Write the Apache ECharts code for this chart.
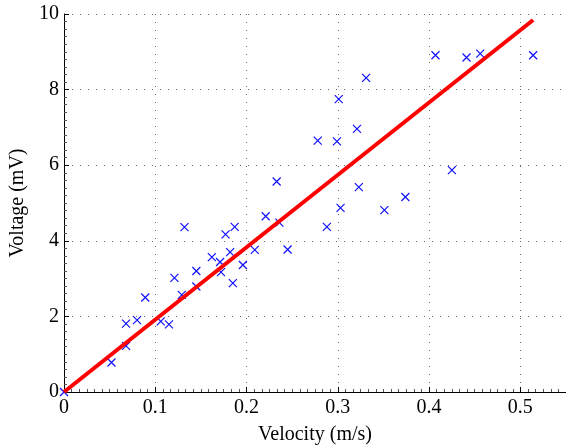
<!DOCTYPE html>
<html>
<head>
<meta charset="utf-8">
<script src="https://cdn.jsdelivr.net/npm/echarts@6/dist/echarts.min.js"></script>
<style>
html,body{margin:0;padding:0;background:#fff;}
#chart{width:566px;height:445px;}
</style>
</head>
<body>
<div id="chart"></div>
<script>
// Measured velocity (m/s)
const velocity = [0, 0.052, 0.068, 0.068, 0.080, 0.089, 0.106, 0.115, 0.121, 0.129,
  0.132, 0.145, 0.145, 0.162, 0.171, 0.172, 0.177, 0.182, 0.185, 0.187,
  0.196, 0.209, 0.221, 0.233, 0.236, 0.245, 0.278, 0.288, 0.299, 0.301,
  0.303, 0.321, 0.323, 0.331, 0.351, 0.374, 0.407, 0.425, 0.441, 0.456, 0.514];
// Measured voltage (mV)
const voltage = [0, 0.78, 1.22, 1.81, 1.90, 2.50, 1.87, 1.79, 3.02, 2.57,
  4.36, 2.79, 3.20, 3.57, 3.44, 3.17, 4.17, 3.70, 2.88, 4.37,
  3.36, 3.76, 4.65, 5.57, 4.48, 3.77, 6.65, 4.37, 6.63, 7.75,
  4.87, 6.96, 5.42, 8.31, 4.81, 5.16, 8.91, 5.87, 8.85, 8.95, 8.91];
// Fitted line endpoints
const fitX = [0, 0.514];
const fitY = [0, 9.84];
// Axis ticks
const xTicks = [0, 0.1, 0.2, 0.3, 0.4, 0.5];
const yTicks = [0, 2, 4, 6, 8, 10];

const chart = echarts.init(document.getElementById('chart'), null, {renderer: 'canvas'});
const font = 'Liberation Serif';
const gridDots = {color: '#666', width: 1, type: [1, 7]};

chart.setOption({
  animation: false,
  grid: {left: 64, right: 0, top: 14, bottom: 53, containLabel: false, outerBoundsMode: 'none'},
  xAxis: {
    type: 'value', min: 0, max: 0.55, interval: 0.1,
    name: 'Velocity (m/s)', nameLocation: 'middle', nameGap: 33,
    nameTextStyle: {fontFamily: font, fontSize: 20, color: '#000'},
    axisLine: {show: true, lineStyle: {color: '#000', width: 1}},
    axisTick: {show: true, inside: true, length: 5, lineStyle: {color: '#000'}},
    minorTick: {show: true, splitNumber: 12, length: 3, lineStyle: {color: '#555'}},
    axisLabel: {fontFamily: font, fontSize: 20, color: '#000', margin: 6, showMaxLabel: false,
      formatter: v => xTicks.includes(+v.toFixed(2)) ? String(+v.toFixed(2)) : ''},
    splitLine: {show: true, lineStyle: gridDots}
  },
  yAxis: {
    type: 'value', min: 0, max: 10, interval: 2,
    name: 'Voltage (mV)', nameLocation: 'middle', nameGap: 31,
    nameTextStyle: {fontFamily: font, fontSize: 20, color: '#000'},
    axisLine: {show: true, lineStyle: {color: '#000', width: 1}},
    axisTick: {show: true, inside: true, length: 5, lineStyle: {color: '#000'}},
    minorTick: {show: true, splitNumber: 10, length: 3, lineStyle: {color: '#555'}},
    axisLabel: {fontFamily: font, fontSize: 20, color: '#000', margin: 5,
      formatter: v => yTicks.includes(v) ? String(v) : ''},
    splitLine: {show: true, lineStyle: gridDots}
  },
  series: [
    {
      type: 'scatter',
      data: velocity.map((v, i) => [v, voltage[i]]),
      symbol: 'path://M0,0L10,10M10,0L0,10',
      symbolSize: 8,
      itemStyle: {color: 'rgba(0,0,0,0)', borderColor: '#1010ff', borderWidth: 1.2, opacity: 1},
      z: 2
    },
    {
      type: 'line',
      data: fitX.map((v, i) => [v, fitY[i]]),
      showSymbol: false,
      lineStyle: {color: '#ff0000', width: 4},
      z: 3
    }
  ]
});
</script>
</body>
</html>
